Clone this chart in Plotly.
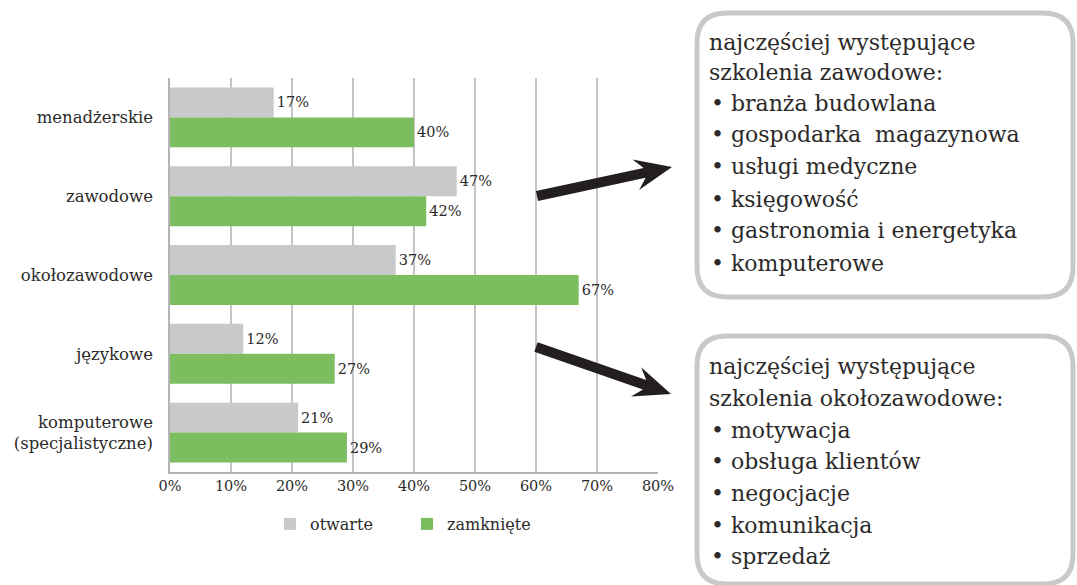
import plotly.graph_objects as go
import math

categories = ["menadżerskie", "zawodowe", "okołozawodowe", "językowe",
              "komputerowe<br>(specjalistyczne)"]
otwarte = [17, 47, 37, 12, 21]
zamkniete = [40, 42, 67, 27, 29]
series_names = ["otwarte", "zamknięte"]
x_ticks = [0, 10, 20, 30, 40, 50, 60, 70, 80]
x_tick_labels = [f"{t}%" for t in x_ticks]

box1_lines = ["najczęściej występujące", "szkolenia zawodowe:",
              "• branża budowlana", "• gospodarka\u00a0 magazynowa",
              "• usługi medyczne", "• księgowość",
              "• gastronomia i energetyka", "• komputerowe"]
box2_lines = ["najczęściej występujące", "szkolenia okołozawodowe:",
              "• motywacja", "• obsługa klientów", "• negocjacje",
              "• komunikacja", "• sprzedaż"]

FONT = "DejaVu Serif"
GREY = "#c8c9cb"
GREEN = "#7cbd60"
TXT = "#2b2a29"

W, H = 1077, 585
L, R, T, B = 170, 658, 78, 472


def px(x):
    return (x - L) / (R - L)


def py(y):
    return (B - y) / (B - T)


fig = go.Figure()
for name, vals, col in [(series_names[0], otwarte, GREY),
                        (series_names[1], zamkniete, GREEN)]:
    fig.add_trace(go.Bar(
        name=name, y=categories, x=vals, orientation="h",
        marker=dict(color=col, line=dict(width=0)),
        text=[f"{v}%" for v in vals], textposition="outside",
        textfont=dict(family=FONT, size=14.5, color=TXT),
        cliponaxis=False,
    ))

shapes = []


def rounded_box(x0, y0, x1, y1, r):
    pts = (f"M {px(x0 + r)},{py(y0)} L {px(x1 - r)},{py(y0)} "
           f"Q {px(x1)},{py(y0)} {px(x1)},{py(y0 + r)} "
           f"L {px(x1)},{py(y1 - r)} Q {px(x1)},{py(y1)} {px(x1 - r)},{py(y1)} "
           f"L {px(x0 + r)},{py(y1)} Q {px(x0)},{py(y1)} {px(x0)},{py(y1 - r)} "
           f"L {px(x0)},{py(y0 + r)} Q {px(x0)},{py(y0)} {px(x0 + r)},{py(y0)} Z")
    return dict(type="path", xref="paper", yref="paper", path=pts,
                line=dict(color="#c8c9ca", width=5), fillcolor="rgba(0,0,0,0)",
                layer="above")


def arrow(tail, tip, w=5, hl=37, hw=15.5, notch=9):
    dx, dy = tip[0] - tail[0], tip[1] - tail[1]
    ln = math.hypot(dx, dy)
    ux, uy = dx / ln, dy / ln
    nx, ny = -uy, ux

    def P(along, perp):
        return (tip[0] + ux * along + nx * perp, tip[1] + uy * along + ny * perp)
    pts = [
        (tail[0] + nx * w, tail[1] + ny * w),
        P(-(hl - notch), w),
        P(-hl, hw),
        tip,
        P(-hl, -hw),
        P(-(hl - notch), -w),
        (tail[0] - nx * w, tail[1] - ny * w),
    ]
    path = "M " + " L ".join(f"{px(a)},{py(b)}" for a, b in pts) + " Z"
    return dict(type="path", xref="paper", yref="paper", path=path,
                line=dict(width=0), fillcolor="#231f20", layer="above")


shapes.append(rounded_box(697, 13, 1073, 297, 30))
shapes.append(rounded_box(697, 336, 1073, 584, 30))
shapes.append(arrow((537, 196), (672, 167)))
shapes.append(arrow((536, 347), (671, 394)))

annotations = []
base1 = [49, 79, 110, 141, 173, 206, 237, 270]
base2 = [373, 405, 437, 468, 500, 532, 563]
for lines, bases in [(box1_lines, base1), (box2_lines, base2)]:
    for txt, b in zip(lines, bases):
        x0 = 710 if txt.startswith("•") else 708
        annotations.append(dict(
            text=txt, xref="paper", yref="paper", x=px(x0), y=py(b - 6.5),
            xanchor="left", yanchor="middle", showarrow=False,
            font=dict(family=FONT, size=22, color=TXT), borderpad=0))

fig.update_layout(
    width=W, height=H,
    margin=dict(l=L, r=W - R, t=T, b=H - B),
    paper_bgcolor="white", plot_bgcolor="white",
    barmode="group", bargap=0.24, bargroupgap=0.0,
    font=dict(family=FONT, color=TXT),
    xaxis=dict(range=[0, 80], tickvals=x_ticks, ticktext=x_tick_labels,
               showgrid=True, gridcolor="#c4c4c4", gridwidth=1.5,
               showline=True, linecolor="#b5b5b5", linewidth=1.5,
               zeroline=False, ticks="",
               tickfont=dict(family=FONT, size=14.5, color=TXT)),
    yaxis=dict(categoryorder="array", categoryarray=categories,
               autorange="reversed", showline=True, linecolor="#b5b5b5",
               linewidth=1.5, ticks="", ticklabelstandoff=12,
               tickfont=dict(family=FONT, size=16.5, color=TXT)),
    showlegend=True,
    legend=dict(orientation="h", x=px(270), xanchor="left",
                y=py(524), yanchor="middle", traceorder="normal",
                entrywidth=92, entrywidthmode="pixels",
                font=dict(family=FONT, size=16, color=TXT),
                bgcolor="rgba(0,0,0,0)"),
    shapes=shapes, annotations=annotations,
)

fig.write_html("out.html",
               config={"displayModeBar": False},
               post_script="document.body.style.margin='0';"
                           "document.body.style.overflow='hidden';")
